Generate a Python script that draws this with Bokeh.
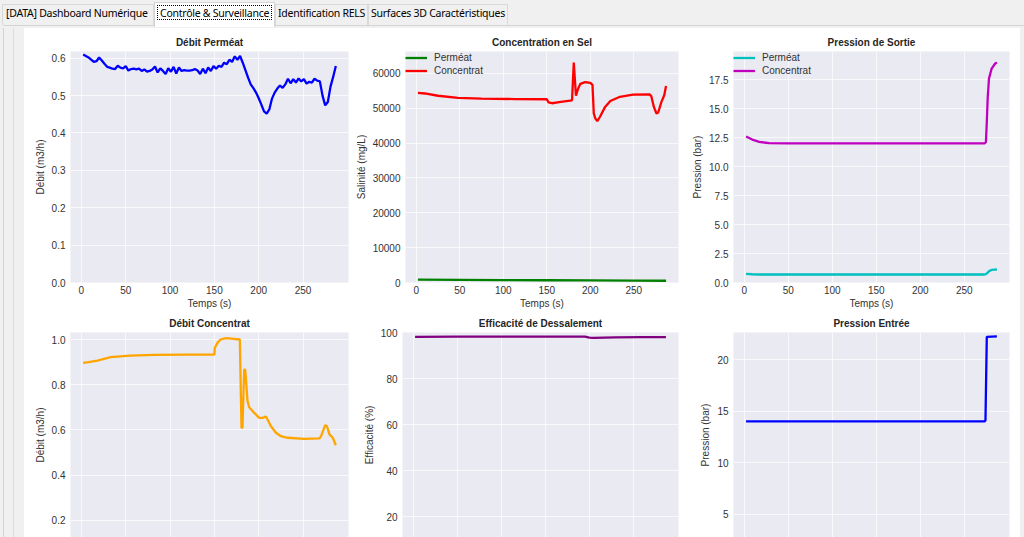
from bokeh.plotting import figure
from bokeh.layouts import column, row
from bokeh.models import Div, Range1d, FixedTicker, Legend, LegendItem
from bokeh.embed import file_html
from bokeh.resources import INLINE

FONT = "Liberation Sans"

# ---------------- data ----------------
tab_labels = ["[DATA] Dashboard Numérique", "Contrôle & Surveillance",
              "Identification RELS", "Surfaces 3D Caractéristiques"]

x_ticks = [0, 50, 100, 150, 200, 250]
x_label = "Temps (s)"

# Débit Perméat (m3/h)
t_debit_perm = list(range(2, 288, 3))
debit_perm = [
    0.610, 0.606, 0.602, 0.596, 0.590, 0.592, 0.602, 0.594, 0.585, 0.577,
    0.575, 0.572, 0.571, 0.580, 0.575, 0.573, 0.579, 0.567, 0.571, 0.572,
    0.570, 0.572, 0.566, 0.570, 0.564, 0.566, 0.570, 0.578, 0.562, 0.573,
    0.566, 0.558, 0.573, 0.564, 0.577, 0.559, 0.575, 0.566, 0.568, 0.567,
    0.567, 0.568, 0.571, 0.567, 0.558, 0.572, 0.560, 0.575, 0.566, 0.579,
    0.572, 0.580, 0.577, 0.588, 0.584, 0.596, 0.590, 0.605, 0.596, 0.606,
    0.588, 0.568, 0.548, 0.530, 0.520, 0.508, 0.493, 0.476, 0.458, 0.452,
    0.463, 0.492, 0.508, 0.519, 0.527, 0.521, 0.530, 0.545, 0.533, 0.544,
    0.535, 0.546, 0.538, 0.544, 0.532, 0.537, 0.535, 0.545, 0.540, 0.538,
    0.500, 0.474, 0.483, 0.524, 0.550, 0.579,
]

# Concentration en sel (mg/L)
t_sel_conc = [2, 10, 25, 48, 75, 113, 150, 152, 156, 166, 179, 181, 183.5, 186,
              188.5, 194, 200, 202.5, 204, 205.7, 208, 211, 217, 223, 234, 249,
              268, 270, 273, 276, 278, 281.5, 285, 287]
sel_concentrat = [54400, 54250, 53600, 53000, 52800, 52650, 52600, 51700, 51450,
                  51850, 52300, 63100, 53600, 55600, 57000, 57500, 57300, 56700,
                  48500, 47100, 46300, 47500, 50400, 52100, 53300, 53900, 54000,
                  53500, 50400, 48500, 48800, 51700, 53800, 56400]
t_sel_perm = [2, 50, 100, 150, 200, 250, 287]
sel_permeat = [800, 740, 690, 640, 590, 540, 500]

# Pression de sortie (bar)
t_pres_sortie = [2, 9, 17, 28, 50, 150, 273, 274.5, 275.5, 276.5, 278, 281, 284.5, 287]
pres_concentrat = [12.6, 12.33, 12.13, 12.02, 12.0, 12.0, 12.0, 12.1, 13.8, 15.9,
                   17.6, 18.45, 18.85, 19.0]
pres_permeat = [0.75, 0.71, 0.69, 0.69, 0.69, 0.69, 0.69, 0.72, 0.78, 0.85,
                0.98, 1.08, 1.11, 1.12]

# Débit concentrat (m3/h)
t_debit_conc = [2, 8, 18, 33, 55, 82, 120, 150, 150.5, 153.5, 157, 163, 172, 178.7,
                180.6, 181.7, 183.6, 184.8, 187.4, 189.3, 195, 200.6, 204.4, 208,
                210, 213.8, 219.5, 225, 232.7, 251.5, 268.5, 270.4, 275, 277, 279.8,
                283.6, 287]
debit_conc = [0.897, 0.900, 0.907, 0.922, 0.929, 0.932, 0.933, 0.933, 0.963, 0.985,
              1.000, 1.006, 1.003, 1.000, 0.609, 0.609, 0.867, 0.867, 0.727, 0.700,
              0.675, 0.653, 0.653, 0.659, 0.646, 0.616, 0.587, 0.572, 0.565, 0.560,
              0.562, 0.572, 0.621, 0.616, 0.580, 0.565, 0.532]

# Efficacité de dessalement (%)
t_eff = [2, 50, 100, 150, 195, 200, 205, 230, 260, 287]
efficacite = [98.1, 98.2, 98.2, 98.25, 98.25, 97.8, 97.7, 97.9, 98.0, 98.0]

# Pression entrée (bar)
t_pres_entree = [2, 273, 274, 275.5, 287]
pres_entree = [14.0, 14.0, 14.1, 22.2, 22.25]

yt1 = [0.0, 0.1, 0.2, 0.3, 0.4, 0.5, 0.6]
yl1 = ["0.0", "0.1", "0.2", "0.3", "0.4", "0.5", "0.6"]
yt2 = [0, 10000, 20000, 30000, 40000, 50000, 60000]
yl2 = ["0", "10000", "20000", "30000", "40000", "50000", "60000"]
yt3 = [0.0, 2.5, 5.0, 7.5, 10.0, 12.5, 15.0, 17.5]
yl3 = ["0.0", "2.5", "5.0", "7.5", "10.0", "12.5", "15.0", "17.5"]
yt4 = [0.0, 0.2, 0.4, 0.6, 0.8, 1.0]
yl4 = ["0.0", "0.2", "0.4", "0.6", "0.8", "1.0"]
yt5 = [0, 20, 40, 60, 80, 100]
yl5 = ["0", "20", "40", "60", "80", "100"]
yt6 = [0, 5, 10, 15, 20]
yl6 = ["0", "5", "10", "15", "20"]

TXT = "#333333"
LW = 2.3


def make_fig(title, w, h, borders, yr, yticks, ylabels, ylab, show_x):
    left, right, top, bottom = borders
    p = figure(width=w, height=h, x_range=Range1d(-12.3, 301.3), y_range=Range1d(*yr),
               output_backend="svg", toolbar_location=None, title=title,
               min_border_left=left, min_border_right=right,
               min_border_top=top, min_border_bottom=bottom,
               background_fill_color="#eaeaf2", border_fill_color="white",
               outline_line_color=None)
    p.title.align = "center"
    p.title.text_font = FONT
    p.title.text_font_size = "10px"
    p.title.text_font_style = "bold"
    p.title.text_color = "#262626"
    p.title.standoff = 7
    p.xaxis.ticker = FixedTicker(ticks=x_ticks)
    p.yaxis.ticker = FixedTicker(ticks=yticks)
    p.yaxis.major_label_overrides = dict(zip(yticks, ylabels))
    for ax in (p.xaxis[0], p.yaxis[0]):
        ax.axis_line_color = None
        ax.major_tick_line_color = None
        ax.minor_tick_line_color = None
        ax.major_tick_in = 0
        ax.major_tick_out = 0
        ax.major_label_text_font = FONT
        ax.major_label_text_font_size = "10px"
        ax.major_label_text_color = TXT
        ax.axis_label_text_font = FONT
        ax.axis_label_text_font_size = "10px"
        ax.axis_label_text_font_style = "normal"
        ax.axis_label_text_color = TXT
    p.yaxis.axis_label = ylab
    p.yaxis.major_label_standoff = 5
    p.yaxis.axis_label_standoff = 3
    if show_x:
        p.xaxis.axis_label = x_label
        p.xaxis.major_label_standoff = 3
        p.xaxis.axis_label_standoff = 1
    else:
        p.xaxis.visible = False
    for g in (p.xgrid[0], p.ygrid[0]):
        g.grid_line_color = "white"
        g.grid_line_alpha = 0.7
        g.grid_line_width = 1
    return p


def add_legend(p, items):
    lg = Legend(items=[LegendItem(label=l, renderers=[r]) for l, r in items],
                location="top_left", background_fill_alpha=0, border_line_color=None,
                label_text_font=FONT, label_text_font_size="10px", label_text_color=TXT,
                glyph_width=22, glyph_height=13, label_height=13, spacing=0,
                padding=7, margin=0, label_standoff=7)
    p.add_layout(lg)


TOP_H, BOT_H = 283, 226
W1, W2, W3 = 328, 333, 335
B1 = (46, 4)
B2 = (50, 7)
B3 = (48, 11)

f1 = make_fig("Débit Perméat", W1, TOP_H, B1 + (23, 28), (0, 0.618), yt1, yl1, "Débit (m3/h)", True)
f1.line(t_debit_perm, debit_perm, line_color="#0000ff", line_width=LW)

f2 = make_fig("Concentration en Sel", W2, TOP_H, B2 + (23, 28), (0, 66300), yt2, yl2, "Salinité (mg/L)", True)
r_g = f2.line(t_sel_perm, sel_permeat, line_color="#008000", line_width=LW)
r_r = f2.line(t_sel_conc, sel_concentrat, line_color="#ff0000", line_width=LW)
add_legend(f2, [("Perméat", r_g), ("Concentrat", r_r)])

f3 = make_fig("Pression de Sortie", W3, TOP_H, B3 + (23, 28), (0, 19.93), yt3, yl3, "Pression (bar)", True)
r_c = f3.line(t_pres_sortie, pres_permeat, line_color="#00bfbf", line_width=LW)
r_m = f3.line(t_pres_sortie, pres_concentrat, line_color="#bf00bf", line_width=LW)
add_legend(f3, [("Perméat", r_c), ("Concentrat", r_m)])

f4 = make_fig("Débit Concentrat", W1, BOT_H, B1 + (21, 0), (0.1235, 1.031), yt4, yl4, "Débit (m3/h)", False)
f4.line(t_debit_conc, debit_conc, line_color="#ffa500", line_width=LW)

f5 = make_fig("Efficacité de Dessalement", W2, BOT_H, B2 + (21, 0), (11.1, 100), yt5, yl5, "Efficacité (%)", False)
f5.line(t_eff, efficacite, line_color="#800080", line_width=LW)

f6 = make_fig("Pression Entrée", W3, BOT_H, B3 + (21, 0), (2.74, 22.62), yt6, yl6, "Pression (bar)", False)
f6.line(t_pres_entree, pres_entree, line_color="#0000ff", line_width=LW)

# ---------------- window chrome (Tk notebook) ----------------
tab_boxes = [(2, 152, False), (154, 121, True), (275, 93, False), (368, 140, False)]
tab_text_x = [6, 160, 278, 371]
parts = ['<div style="position:relative;width:1024px;height:28px;background:#f0f0f0;'
         'overflow:hidden;font-family:\'Noto Sans\';font-size:10.5px;letter-spacing:-0.25px;color:#000;">',
         '<div style="position:absolute;left:3px;top:25px;width:1021px;height:1px;background:#d4d4d4"></div>']
for (bx, bw, sel), tx, lab in zip(tab_boxes, tab_text_x, tab_labels):
    if sel:
        parts.append(f'<div style="position:absolute;left:{bx}px;top:2px;width:{bw}px;height:25px;'
                     'box-sizing:border-box;border:1px solid #d4d4d4;border-bottom:none;background:#ffffff"></div>')
        parts.append(f'<span style="position:absolute;left:{tx - 3}px;top:5px;height:15px;line-height:15px;'
                     f'padding:0 2px;border:1px dotted #000;white-space:nowrap">{lab}</span>')
    else:
        parts.append(f'<div style="position:absolute;left:{bx}px;top:4px;width:{bw}px;height:21px;'
                     'box-sizing:border-box;border:1px solid #d9d9d9;border-bottom:none;background:#f0f0f0"></div>')
        parts.append(f'<span style="position:absolute;left:{tx}px;top:6px;height:15px;line-height:15px;'
                     f'white-space:nowrap">{lab}</span>')
parts.append('</div>')
tabbar = Div(text="".join(parts), width=1024, height=28, margin=0)

left_strip = Div(text='<div style="position:relative;width:24px;height:509px;background:#f0f0f0">'
                      '<div style="position:absolute;left:3px;top:0;width:1px;height:509px;background:#d4d4d4"></div>'
                      '<div style="position:absolute;left:13px;top:0;width:1px;height:509px;background:#dcdcdc"></div>'
                      '</div>', width=24, height=509, margin=0)
right_strip = Div(text='<div style="position:relative;width:4px;height:509px;background:#f0f0f0"></div>',
                  width=4, height=509, margin=0)

grid = column(row(f1, f2, f3), row(f4, f5, f6))
layout = column(tabbar, row(left_strip, grid, right_strip))

open("out.html", "w").write(file_html(layout, INLINE, title="Contrôle & Surveillance"))
